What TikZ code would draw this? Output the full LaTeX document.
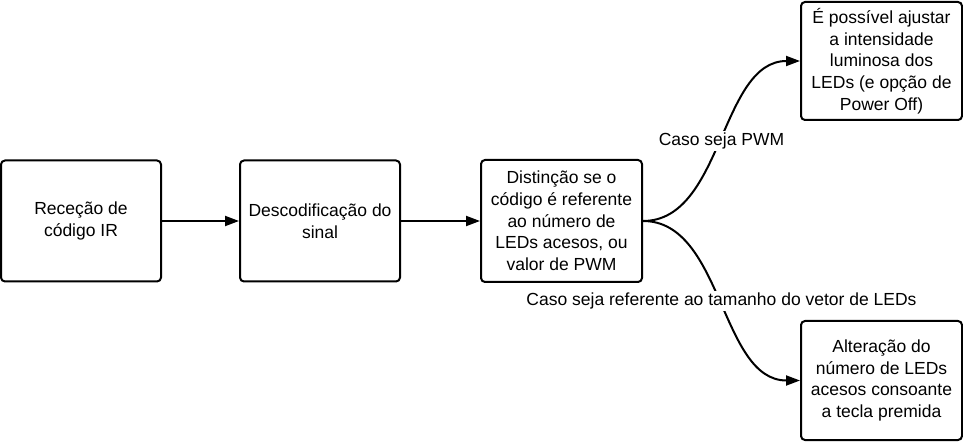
\documentclass[tikz,border=0pt]{standalone}
\usepackage{fontspec}
\setmainfont{Liberation Sans}
\usetikzlibrary{arrows.meta}
\begin{document}
\begin{tikzpicture}[x=1pt,y=-1pt,
  box/.style={draw=black,line width=2pt,rounded corners=4pt,align=center,
    inner sep=0pt,font=\fontsize{17.5}{21.7}\selectfont},
  conn/.style={line width=2pt,-{Triangle[length=14pt,width=10pt]}},
  lbl/.style={fill=white,inner sep=2pt,font=\fontsize{17.5}{21.7}\selectfont}]
\useasboundingbox (0,0) rectangle (963,443);
\node[box,minimum width=160pt,minimum height=121pt] (a) at (81,221) {Receção de\\código IR};
\node[box,minimum width=160pt,minimum height=121pt] (b) at (320,221) {Descodificação do\\sinal};
\node[box,minimum width=161pt,minimum height=122pt] (c) at (561.5,221) {Distinção se o\\código é referente\\ao número de\\LEDs acesos, ou\\valor de PWM};
\node[box,minimum width=161pt,minimum height=118pt] (d) at (881.5,61) {É possível ajustar\\a intensidade\\luminosa dos\\LEDs (e opção de\\Power Off)};
\node[box,minimum width=161pt,minimum height=119pt] (e) at (881.5,380.5) {Alteração do\\número de LEDs\\acesos consoante\\a tecla premida};
\draw[conn] (a) -- (b);
\draw[conn] (b) -- (c);
\draw[conn] (c.east) .. controls +(80,0) and +(-80,0) .. node[lbl] (l1) {Caso seja PWM} (d.west);
\draw[conn] (c.east) .. controls +(80,0) and +(-80,0) .. node[lbl] (l2) {Caso seja referente ao tamanho do vetor de LEDs} (e.west);
\end{tikzpicture}
\end{document}
